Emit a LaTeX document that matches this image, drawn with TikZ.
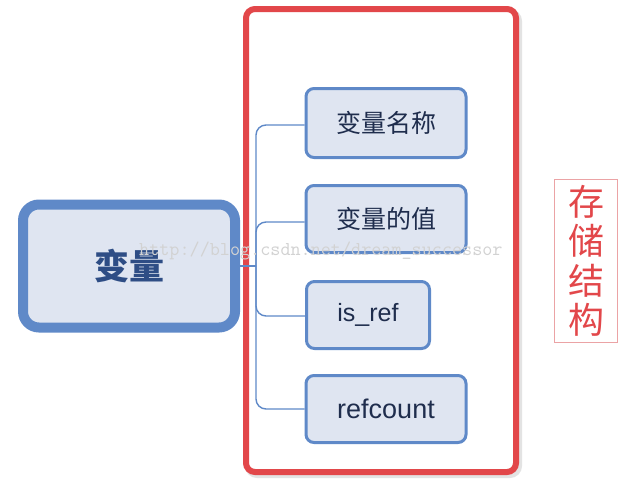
\documentclass[tikz,border=0pt]{standalone}
\usepackage{fontspec}
\setmainfont{Liberation Sans}
\newfontfamily\cjk{Noto Sans CJK SC}
\usetikzlibrary{positioning}
\definecolor{nodefill}{HTML}{DFE5F1}
\definecolor{nodeedge}{HTML}{5F89C8}
\definecolor{nodetext}{HTML}{1F2D4D}
\definecolor{rootText}{HTML}{2E4D85}
\definecolor{redframe}{HTML}{E2474A}
\definecolor{pinkframe}{HTML}{EBA3A5}
\tikzset{
  child/.style={draw=nodeedge, fill=nodefill, line width=3pt, rounded corners=8pt,
    inner sep=0pt, text=nodetext, font=\cjk\fontsize{25}{25}\selectfont},
  latinchild/.style={child, font=\fontsize{25}{25}\selectfont},
  rootnode/.style={draw=nodeedge, fill=nodefill, line width=10pt, rounded corners=16pt,
    inner sep=0pt, minimum width=212pt, minimum height=123pt, text=rootText,
    font=\cjk\bfseries\fontsize{35}{35}\selectfont},
  link/.style={draw=nodeedge, line width=1.4pt, rounded corners=10pt},
}
\begin{document}
\begin{tikzpicture}[x=1pt,y=-1pt]
\useasboundingbox (0,0) rectangle (639,493);
% red frame with slight shadow
\draw[gray!22, line width=6pt, rounded corners=9pt] (248,12) rectangle (519,475);
\draw[redframe, fill=white, line width=6pt, rounded corners=9pt] (246,9) rectangle (516,472);
% root
\node[rootnode] (root) at (129,266) {变量};
% children
\node[child, minimum width=160pt, minimum height=69pt] (c1) at (386,123) {变量名称};
\node[child, minimum width=160pt, minimum height=67pt] (c2) at (386,219) {变量的值};
\node[latinchild, minimum width=123pt, minimum height=67pt] (c3) at (368,315) {is\_ref};
\node[latinchild, minimum width=160pt, minimum height=67pt, font=\fontsize{27}{27}\selectfont] (c4) at (386,409) {refcount};
% connectors
\coordinate (trunk) at (256,266);
\draw[link] (root.east |- trunk) -- (trunk);
\draw[link] (trunk) -- (256,125) -- (c1.west |- 0,125);
\draw[link] (trunk) -- (256,222) -- (c2.west |- 0,222);
\draw[link] (trunk) -- (256,316) -- (c3.west |- 0,316);
\draw[link] (trunk) -- (256,409) -- (c4.west |- 0,409);
% watermark
\node[text=gray!35, font=\ttfamily\fontsize{19.6}{19.6}\selectfont, anchor=west, inner sep=0pt] (wm) at (139,251) {http://blog.csdn.net/dream\_successor};
% side label
\node[draw=pinkframe, line width=1pt, minimum width=63pt, minimum height=163pt, inner sep=0pt,
  text=redframe, font=\cjk\fontsize{36}{39.5}\selectfont, align=center] (side) at (586,261) {存\\储\\结\\构};
\end{tikzpicture}
\end{document}
